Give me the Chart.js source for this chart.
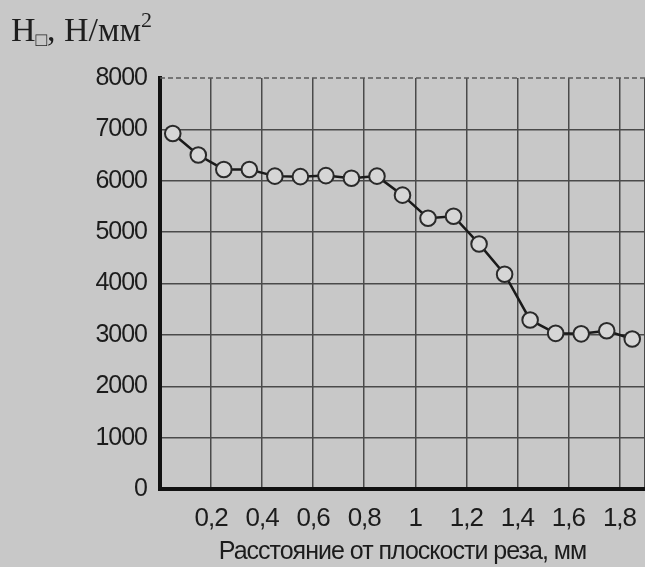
<!DOCTYPE html>
<html>
<head>
<meta charset="utf-8">
<script src="https://cdn.jsdelivr.net/npm/chart.js@4/dist/chart.umd.min.js"></script>
<style>
  html, body { margin: 0; padding: 0; background: #c8c8c8; }
  #wrap { position: relative; width: 645px; height: 567px; overflow: hidden; }
  canvas { position: absolute; left: 0; top: 0; }
  #ylab { position: absolute; left: 11px; top: 14px; line-height: 32px; font-family: "Liberation Serif", "DejaVu Serif", serif; font-size: 34px; color: #1e1e1e; white-space: nowrap; }
  #ylab sub { font-size: 19px; vertical-align: -5px; line-height: 0; }
  #ylab sup { font-size: 22px; vertical-align: 14px; line-height: 0; }
</style>
</head>
<body>
<div id="wrap">
  <canvas id="c" width="645" height="567"></canvas>
  <div id="ylab">H<sub>□</sub>, H/мм<sup>2</sup></div>
</div>
<script>
const xValues = [0.05, 0.15, 0.25, 0.35, 0.45, 0.55, 0.65, 0.75, 0.85, 0.95, 1.05, 1.15, 1.25, 1.35, 1.45, 1.55, 1.65, 1.75, 1.85];
const hardness = [6920, 6500, 6220, 6220, 6090, 6080, 6100, 6050, 6090, 5720, 5270, 5310, 4770, 4180, 3290, 3030, 3020, 3080, 2920];
const xTickValues = [0, 0.2, 0.4, 0.6, 0.8, 1.0, 1.2, 1.4, 1.6, 1.8, 1.9];
const xTickLabels = ['', '0,2', '0,4', '0,6', '0,8', '1', '1,2', '1,4', '1,6', '1,8', ''];
const yTickValues = [0, 1000, 2000, 3000, 4000, 5000, 6000, 7000, 8000];
const yTickLabels = ['0', '1000', '2000', '3000', '4000', '5000', '6000', '7000', '8000'];
const xTitle = 'Расстояние от плоскости реза, мм';

const points = xValues.map((x, i) => ({ x: x, y: hardness[i] }));

const spacingPlugin = {
  id: 'spacing',
  beforeInit(chart) { chart.ctx.letterSpacing = '-1px'; },
  beforeUpdate(chart) { chart.ctx.letterSpacing = '-1px'; },
  beforeDraw(chart) { chart.ctx.letterSpacing = '-1px'; }
};

// dashed top gridline (at the y-axis maximum), drawn from the y scale
const topLinePlugin = {
  id: 'topLine',
  beforeDatasetsDraw(chart) {
    const ys = chart.scales.y, area = chart.chartArea, ctx = chart.ctx;
    const py = ys.getPixelForValue(ys.max);
    ctx.save();
    ctx.strokeStyle = '#5a5a5a';
    ctx.lineWidth = 1.5;
    ctx.setLineDash([5, 3]);
    ctx.beginPath();
    ctx.moveTo(area.left, py);
    ctx.lineTo(area.right, py);
    ctx.stroke();
    ctx.restore();
  }
};

new Chart(document.getElementById('c'), {
  type: 'scatter',
  data: {
    datasets: [{
      data: points,
      showLine: true,
      borderColor: '#1a1a1a',
      borderWidth: 2.5,
      pointRadius: 7.8,
      pointHoverRadius: 7.8,
      pointBackgroundColor: '#d6d6d6',
      pointBorderColor: '#2a2a2a',
      pointBorderWidth: 2
    }]
  },
  options: {
    responsive: false,
    animation: false,
    events: [],
    layout: { autoPadding: false, padding: { top: 78, left: 0, right: 0, bottom: 0 } },
    plugins: { legend: { display: false }, tooltip: { enabled: false } },
    scales: {
      x: {
        type: 'linear',
        min: 0,
        max: 1.9,
        afterBuildTicks(scale) { scale.ticks = xTickValues.map(v => ({ value: v })); },
        afterFit(scale) { scale.height = 78; scale.paddingLeft = 0; scale.paddingRight = 0; },
        ticks: {
          autoSkip: false,
          maxRotation: 0,
          padding: 14,
          color: '#1c1c1c',
          font: { family: 'Liberation Sans', size: 26 },
          callback(v, i) { return xTickLabels[i]; }
        },
        grid: { color: '#4a4a4a', lineWidth: 1.5, drawTicks: false },
        border: { color: '#111', width: 4 },
        title: {
          display: true,
          text: xTitle,
          color: '#1c1c1c',
          font: { family: 'Liberation Sans', size: 25 },
          padding: { top: 2, bottom: 0 }
        }
      },
      y: {
        min: 0,
        max: 8000,
        afterBuildTicks(scale) { scale.ticks = yTickValues.map(v => ({ value: v })); },
        afterFit(scale) { scale.width = 160; scale.paddingTop = 0; scale.paddingBottom = 0; },
        ticks: {
          padding: 13,
          color: '#1c1c1c',
          font: { family: 'Liberation Sans', size: 25 },
          callback(v, i) { return yTickLabels[i]; }
        },
        grid: {
          color: (ctx) => ctx.tick && ctx.tick.value === 8000 ? 'rgba(0,0,0,0)' : '#4a4a4a',
          lineWidth: 1.5,
          drawTicks: false
        },
        border: { color: '#111', width: 4 }
      }
    }
  },
  plugins: [spacingPlugin, topLinePlugin]
});
</script>
</body>
</html>
